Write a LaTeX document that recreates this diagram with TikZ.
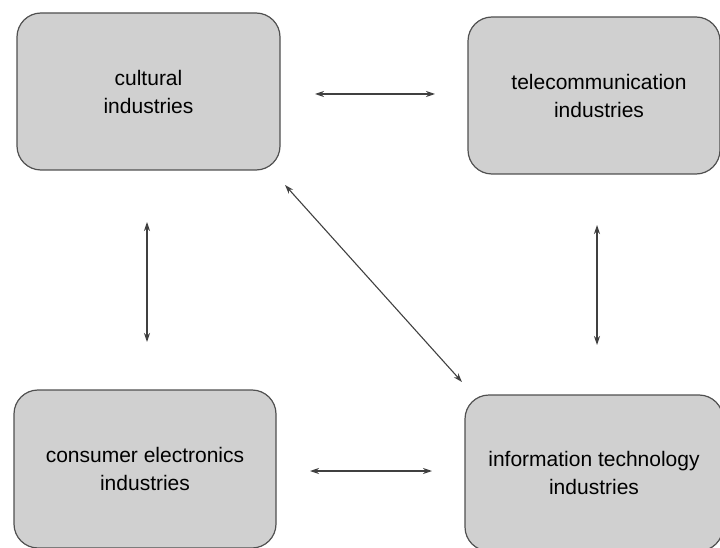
\documentclass[tikz,border=0pt]{standalone}
\usepackage{fontspec}
\setmainfont{Liberation Sans}
\usetikzlibrary{arrows.meta}
\definecolor{boxfill}{HTML}{D0D0D0}
\definecolor{boxline}{HTML}{505050}
\definecolor{arrowcol}{HTML}{404040}
\begin{document}
\begin{tikzpicture}[x=1pt,y=-1pt,
  industry/.style={draw=boxline, fill=boxfill, line width=1.2pt, rounded corners=24pt,
    align=center, inner sep=0pt, font=\fontsize{21}{28}\selectfont},
  link/.style={draw=arrowcol, line width=1.1pt,
    {Stealth[length=9pt,width=6pt]}-{Stealth[length=9pt,width=6pt]}}]
\useasboundingbox (0,0) rectangle (720,548);
\node[industry, minimum width=263pt, minimum height=157pt] (cult) at (148.5,91.5) {cultural\\industries};
\node[industry, minimum width=252pt, minimum height=157pt] (tele) at (594,95.5) {\hspace*{10pt}telecommunication\\\hspace*{10pt}industries};
\node[industry, minimum width=262pt, minimum height=158pt] (cons) at (145,469) {consumer electronics\\industries};
\node[industry, minimum width=258pt, minimum height=156pt] (info) at (594,473) {information technology\\industries};
\coordinate (a1) at (315,94);
\coordinate (a2) at (435,94);
\coordinate (b1) at (147,222);
\coordinate (b2) at (147,342);
\coordinate (c1) at (285,185);
\coordinate (c2) at (462,382);
\coordinate (d1) at (597,225);
\coordinate (d2) at (597,345);
\coordinate (e1) at (310,471);
\coordinate (e2) at (432,471);
\draw[link] (a1) -- (a2);
\draw[link] (b1) -- (b2);
\draw[link] (c1) -- (c2);
\draw[link] (d1) -- (d2);
\draw[link] (e1) -- (e2);
\end{tikzpicture}
\end{document}
